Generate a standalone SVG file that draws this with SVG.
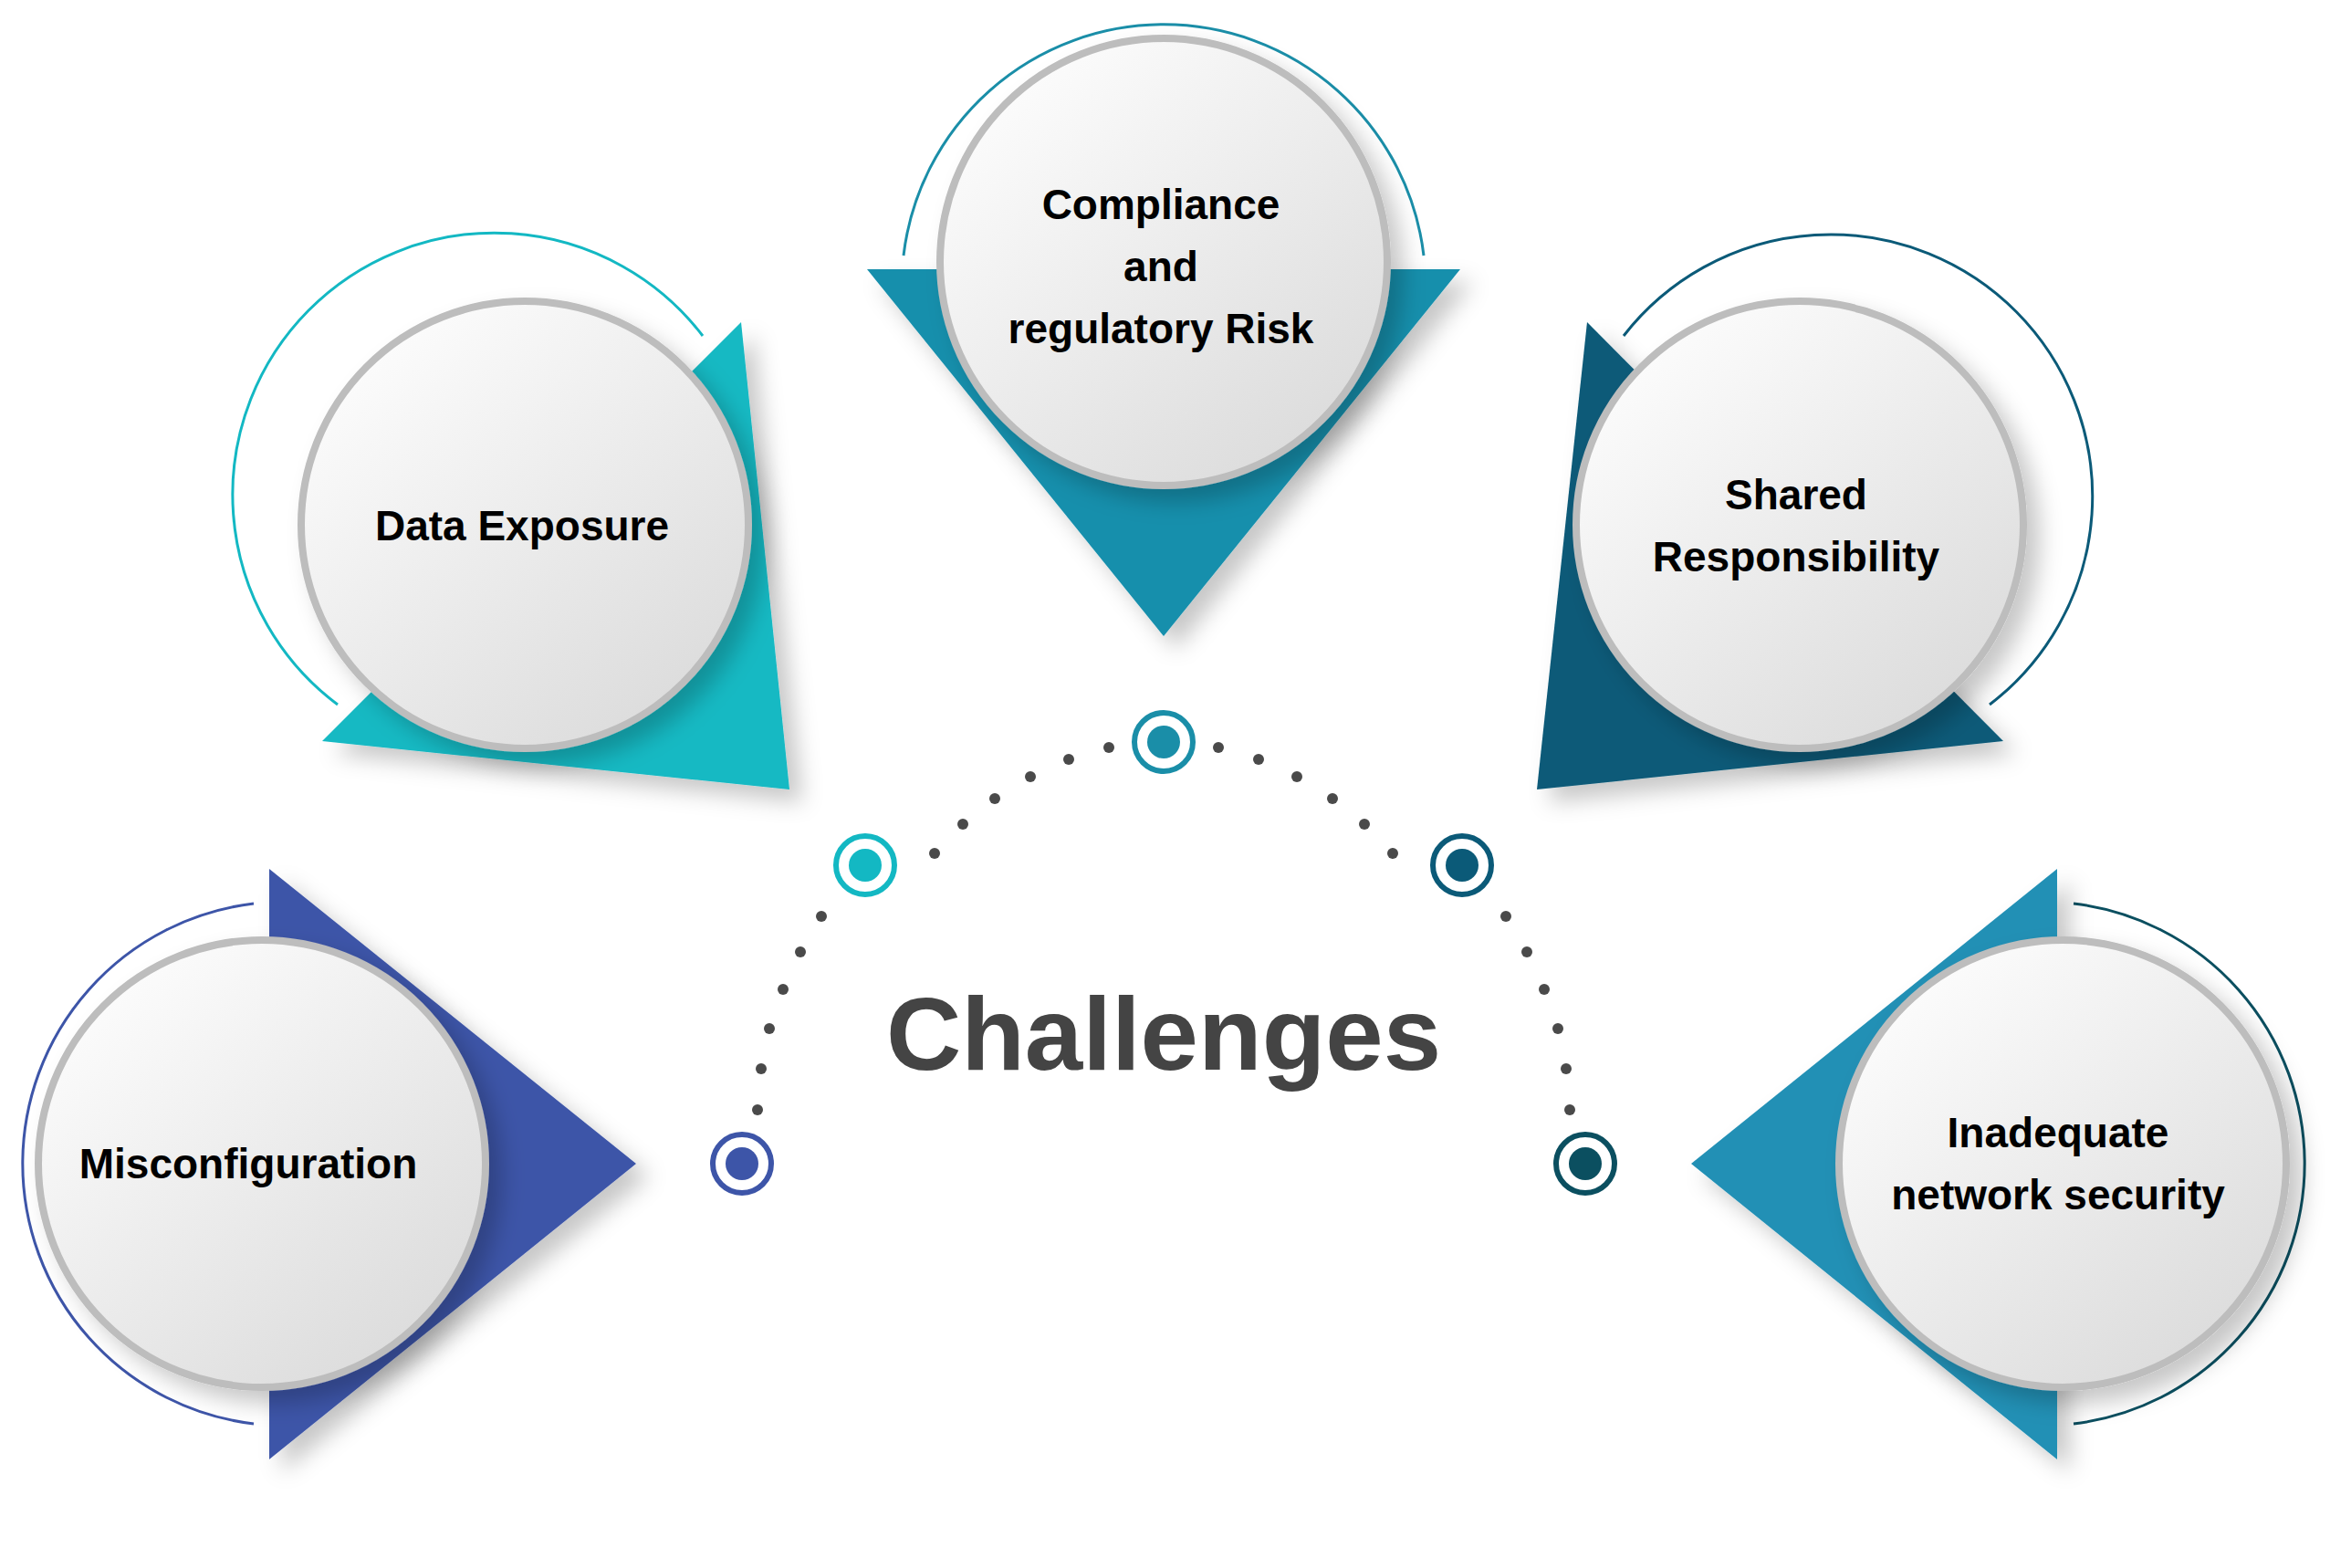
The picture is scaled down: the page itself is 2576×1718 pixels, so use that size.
<svg xmlns="http://www.w3.org/2000/svg" width="2576" height="1718" viewBox="0 0 2576 1718">
<defs>
<linearGradient id="cg" x1="0.2" y1="0.1" x2="0.85" y2="0.9"><stop offset="0" stop-color="#fbfbfb"/><stop offset="1" stop-color="#dcdcdc"/></linearGradient>
<filter id="sh" x="-20%" y="-20%" width="150%" height="150%"><feDropShadow dx="14" dy="14" stdDeviation="12" flood-color="#000" flood-opacity="0.22"/></filter>
</defs>
<style>
.c{fill:url(#cg);stroke:#bdbdbd;stroke-width:8}
.arc{fill:none;stroke-width:3}
.t{font-family:"Liberation Sans",Arial,sans-serif;font-weight:bold;font-size:46px;fill:#000;text-anchor:middle}
.d{fill:#4a4a4a}
.ring{fill:none;stroke-width:6}
</style>
<rect width="2576" height="1718" fill="#fff"/>
<g id="connectors">
<g class="d">
<circle cx="1215" cy="819" r="6"/><circle cx="1171" cy="832" r="6"/><circle cx="1129" cy="851" r="6"/><circle cx="1090" cy="875" r="6"/><circle cx="1055" cy="903" r="6"/><circle cx="1024" cy="935" r="6"/>
<circle cx="900" cy="1004" r="6"/><circle cx="877" cy="1043" r="6"/><circle cx="858" cy="1084" r="6"/><circle cx="843" cy="1127" r="6"/><circle cx="834" cy="1171" r="6"/><circle cx="830" cy="1216" r="6"/>
<circle cx="1335" cy="819" r="6"/><circle cx="1379" cy="832" r="6"/><circle cx="1421" cy="851" r="6"/><circle cx="1460" cy="875" r="6"/><circle cx="1495" cy="903" r="6"/><circle cx="1526" cy="935" r="6"/>
<circle cx="1650" cy="1004" r="6"/><circle cx="1673" cy="1043" r="6"/><circle cx="1692" cy="1084" r="6"/><circle cx="1707" cy="1127" r="6"/><circle cx="1716" cy="1171" r="6"/><circle cx="1720" cy="1216" r="6"/>
</g>
<circle class="ring" cx="1275" cy="813" r="32" stroke="#1a8ea8"/><circle cx="1275" cy="813" r="18" fill="#1a8ea8"/>
<circle class="ring" cx="948" cy="948" r="32" stroke="#13b8c3"/><circle cx="948" cy="948" r="18" fill="#13b8c3"/>
<circle class="ring" cx="1602" cy="948" r="32" stroke="#0b5a78"/><circle cx="1602" cy="948" r="18" fill="#0b5a78"/>
<circle class="ring" cx="813" cy="1275" r="32" stroke="#3d55a8"/><circle cx="813" cy="1275" r="18" fill="#3d55a8"/>
<circle class="ring" cx="1737" cy="1275" r="32" stroke="#0b4f60"/><circle cx="1737" cy="1275" r="18" fill="#0b4f60"/>
</g>
<text x="1275" y="1172" font-family="Liberation Sans,Arial,sans-serif" font-weight="bold" font-size="114" fill="#444" text-anchor="middle">Challenges</text>
<g id="n-compliance">
<path class="arc" stroke="#1a8ea8" d="M990 280 A287 287 0 0 1 1560 280"/>
<polygon points="950,295 1600,295 1275,697" fill="#158fac" filter="url(#sh)"/>
<circle class="c" cx="1275" cy="287" r="245" filter="url(#sh)"/>
<text class="t" x="1272" y="240">Compliance</text><text class="t" x="1272" y="308">and</text><text class="t" x="1272" y="376">regulatory Risk</text>
</g>
<g id="n-data">
<path class="arc" stroke="#13b8c3" d="M770 368 A287 287 0 1 0 370 772"/>
<polygon points="812,353 865,865 353,812" fill="#13b9c3" filter="url(#sh)"/>
<circle class="c" cx="575" cy="575" r="245" filter="url(#sh)"/>
<text class="t" x="572" y="592">Data Exposure</text>
</g>
<g id="n-shared">
<path class="arc" stroke="#0b5a78" d="M1779 368 A287 287 0 1 1 2180 772"/>
<polygon points="1739,353 1684,865 2195,812" fill="#0b5a78" filter="url(#sh)"/>
<circle class="c" cx="1972" cy="575" r="245" filter="url(#sh)"/>
<text class="t" x="1968" y="558">Shared</text><text class="t" x="1968" y="626">Responsibility</text>
</g>
<g id="n-misconfig">
<path class="arc" stroke="#3d55a8" d="M278 990 A287 287 0 0 0 278 1560"/>
<polygon points="295,952 697,1275 295,1599" fill="#3d55a8" filter="url(#sh)"/>
<circle class="c" cx="287" cy="1275" r="245" filter="url(#sh)"/>
<text class="t" x="272" y="1291">Misconfiguration</text>
</g>
<g id="n-network">
<path class="arc" stroke="#0b4f60" d="M2272 990 A287 287 0 0 1 2272 1560"/>
<polygon points="2254,952 1853,1275 2254,1599" fill="#2290b5" filter="url(#sh)"/>
<circle class="c" cx="2260" cy="1275" r="245" filter="url(#sh)"/>
<text class="t" x="2255" y="1257">Inadequate</text><text class="t" x="2255" y="1325">network security</text>
</g>
</svg>
